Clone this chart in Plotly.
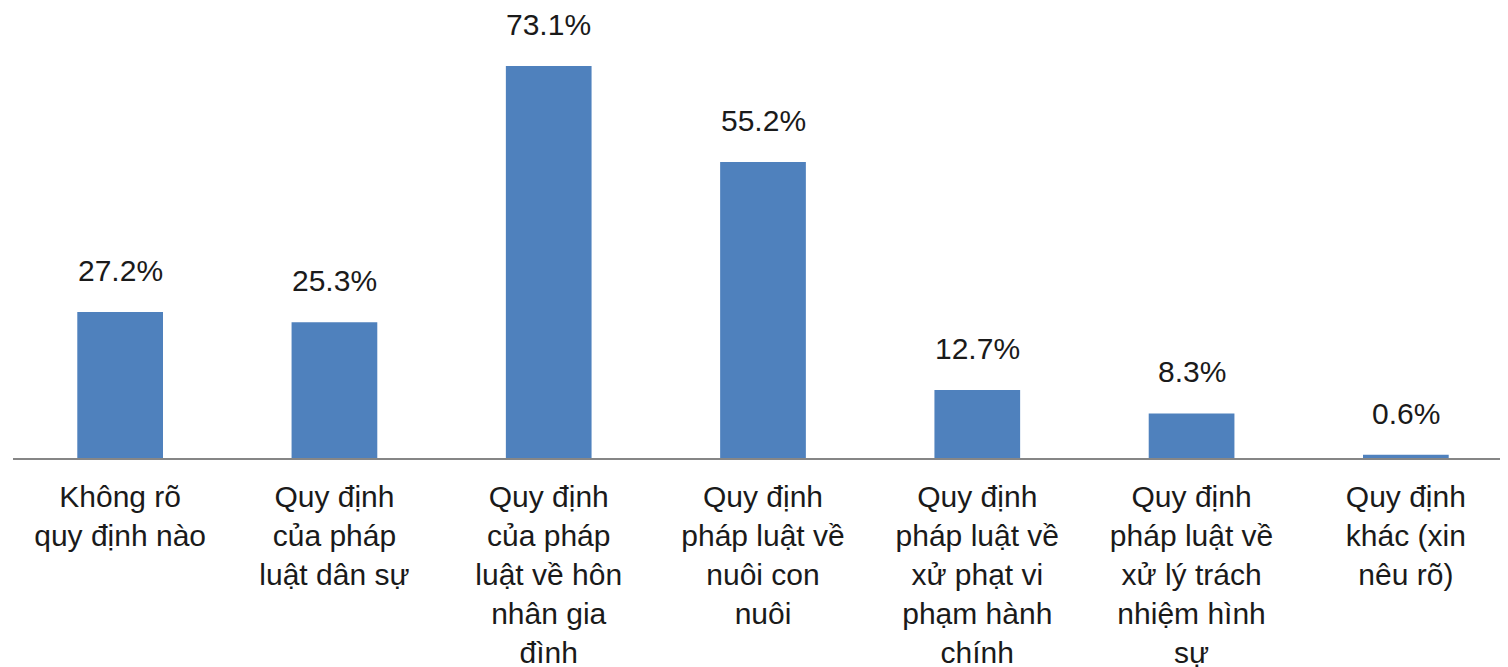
import plotly.graph_objects as go

# 数据
categories = [
    "Không rõ<br>quy định nào",
    "Quy định<br>của pháp<br>luật dân sự",
    "Quy định<br>của pháp<br>luật về hôn<br>nhân gia<br>đình",
    "Quy định<br>pháp luật về<br>nuôi con<br>nuôi",
    "Quy định<br>pháp luật về<br>xử phạt vi<br>phạm hành<br>chính",
    "Quy định<br>pháp luật về<br>xử lý trách<br>nhiệm hình<br>sự",
    "Quy định<br>khác (xin<br>nêu rõ)",
]
values = [27.2, 25.3, 73.1, 55.2, 12.7, 8.3, 0.6]
value_labels = ["27.2%", "25.3%", "73.1%", "55.2%", "12.7%", "8.3%", "0.6%"]

BAR_COLOR = "#4F81BD"
FONT = "Liberation Sans, Arial, sans-serif"

fig = go.Figure()
fig.add_trace(go.Bar(
    x=categories,
    y=values,
    marker=dict(color=BAR_COLOR, line=dict(width=0)),
    hoverinfo="skip",
))

# 数值标签
for cat, val, lab in zip(categories, values, value_labels):
    fig.add_annotation(
        x=cat, y=val, text=lab,
        showarrow=False, yanchor="bottom", yshift=23,
        font=dict(size=30, color="#1a1a1a", family=FONT),
    )

fig.update_layout(
    width=1508, height=667,
    margin=dict(l=5, r=3, t=0, b=217),
    plot_bgcolor="white", paper_bgcolor="white",
    bargap=0.6,
    showlegend=False,
    font=dict(family=FONT, size=30, color="#1a1a1a"),
    xaxis=dict(
        showline=True, linecolor="#868686", linewidth=2,
        ticks="", showgrid=False,
        tickfont=dict(size=30, color="#1a1a1a", family=FONT),
        tickangle=0, ticklabelstandoff=11,
    ),
    yaxis=dict(
        range=[0, 83.9], visible=False, showgrid=False, zeroline=False,
    ),
)

fig.write_html("out.html")
